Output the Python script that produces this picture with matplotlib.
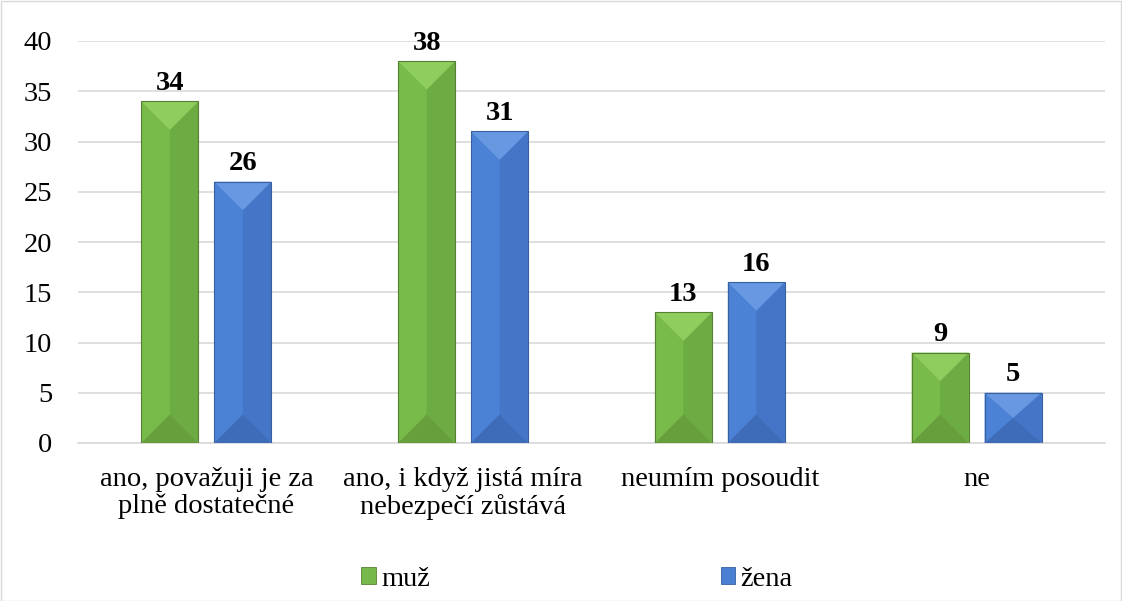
import matplotlib
matplotlib.use("Agg")
import matplotlib.pyplot as plt
from matplotlib.patches import Polygon, Rectangle, Patch
import numpy as np

categories = ["ano, považuji je za\nplně dostatečné", "ano, i když jistá míra\nnebezpečí zůstává",
              "neumím posoudit", "ne"]
series_names = ["muž", "žena"]
muz = [34, 38, 13, 9]
zena = [26, 31, 16, 5]

plt.rcParams['font.family'] = ['Liberation Serif', 'DejaVu Serif']

W, H = 1122, 601
fig = plt.figure(figsize=(W/100, H/100), dpi=100)
ax = fig.add_axes([78/W, 1-443/H, (1105-78)/W, (443-41)/H])
ax.set_xlim(-0.5, 3.5)
ax.set_ylim(0, 40)
ax.set_yticks(range(0, 41, 5))
ax.yaxis.grid(True, color='#d9d9d9', lw=1.2)
ax.set_axisbelow(True)
for s in ['top', 'right', 'left']:
    ax.spines[s].set_visible(False)
ax.spines['bottom'].set_color('#d9d9d9')
ax.spines['bottom'].set_linewidth(1.2)
FS = 20.5
ax.tick_params(axis='both', length=0, labelsize=FS, colors='black')
ax.tick_params(axis='y', pad=18.5)
ax.tick_params(axis='x', pad=17)
x = np.arange(len(categories))
ax.set_xticks(x)
ax.set_xticklabels(categories, linespacing=1.12)

bw = 0.222
off = 0.142
palettes = {
    "muž": dict(base='#76b84a', top='#8fce5e', left='#78bb4b', right='#6dab43', bottom='#679f3d', edge='#567f33'),
    "žena": dict(base='#4a7fd2', top='#6898e2', left='#4c82d5', right='#4475c6', bottom='#3f6cb8', edge='#38609f'),
}

ax_h_px = (443-41)
px_per_y = ax_h_px / 40.0
ax_w_px = (1105-78)
px_per_x = ax_w_px / 4.0

for vals, name, sgn in [(muz, "muž", -1), (zena, "žena", 1)]:
    p = palettes[name]
    for xi, h in zip(x, vals):
        xc = xi + sgn*off
        x0, x1 = xc - bw/2, xc + bw/2
        d = (bw*px_per_x/2) / px_per_y
        d = min(d, h/2)
        ax.bar(xc, h, width=bw, color=p['base'], edgecolor='none', zorder=2)
        polys = [
            ([(x0, 0), (xc, d), (xc, h-d), (x0, h)], p['left']),
            ([(x1, 0), (xc, d), (xc, h-d), (x1, h)], p['right']),
            ([(x0, h), (x1, h), (xc, h-d)], p['top']),
            ([(x0, 0), (x1, 0), (xc, d)], p['bottom']),
        ]
        for pts, c in polys:
            ax.add_patch(Polygon(pts, closed=True, facecolor=c, edgecolor='none', zorder=3))
        ax.add_patch(Rectangle((x0, 0), bw, h, facecolor='none', edgecolor=p['edge'], lw=0.8, zorder=4))
        ax.annotate(str(h), (xc, h), xytext=(0, 4), textcoords='offset points',
                    ha='center', va='bottom', fontsize=FS, fontweight='bold', zorder=5)

handles = [Patch(facecolor=palettes[n]['base'], edgecolor=palettes[n]['edge'], lw=0.6) for n in series_names]
fig.legend(handles, series_names, loc='center', bbox_to_anchor=(577/W, 1-579/H), ncol=2,
           frameon=False, fontsize=FS, handlelength=0.5, handleheight=0.5, handletextpad=0.2,
           columnspacing=10.2, borderpad=0)

fig.add_artist(Rectangle((0.5/W, 0.5/H), 1-1.5/W, 1-1.5/H, transform=fig.transFigure,
                         facecolor='none', edgecolor='#d9d9d9', lw=1))

fig.savefig("out.png", dpi=100, facecolor='white')
